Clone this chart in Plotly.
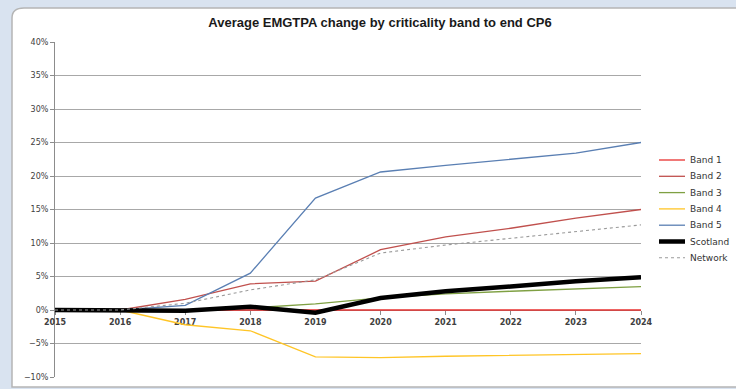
import plotly.graph_objects as go

# Years on the horizontal axis
years = [2015, 2016, 2017, 2018, 2019, 2020, 2021, 2022, 2023, 2024]

# Average EMGTPA change (fraction) for each criticality band
band_1 = [0.0, 0.0, 0.0, 0.0, 0.0, 0.0, 0.0, 0.0, 0.0, 0.0]
band_2 = [0.0, 0.0, 0.016, 0.039, 0.043, 0.090, 0.109, 0.122, 0.137, 0.150]
band_3 = [0.0, 0.0, 0.0, 0.003, 0.009, 0.018, 0.024, 0.028, 0.031, 0.035]
band_4 = [0.0, 0.0, -0.022, -0.031, -0.070, -0.071, -0.069, -0.068, -0.067, -0.065]
band_5 = [0.0, 0.0, 0.007, 0.055, 0.167, 0.206, 0.216, 0.225, 0.234, 0.250]
scotland = [0.0, 0.0, -0.001, 0.005, -0.004, 0.018, 0.028, 0.035, 0.043, 0.049]
network = [0.0, 0.0, 0.010, 0.030, 0.045, 0.085, 0.097, 0.107, 0.117, 0.127]

series_names = ["Band 1", "Band 2", "Band 3", "Band 4", "Band 5", "Scotland", "Network"]
series_values = [band_1, band_2, band_3, band_4, band_5, scotland, network]
series_styles = [
    dict(color="#e8302f", width=1.3),
    dict(color="#c0504d", width=1.3),
    dict(color="#7fa043", width=1.3),
    dict(color="#ffc526", width=1.3),
    dict(color="#5a7fb3", width=1.3),
    dict(color="#000000", width=4.5),
    dict(color="#9a9a9a", width=1.1, dash="dot"),
]

title_text = "Average EMGTPA change by criticality band to end CP6"

fig = go.Figure()
for name, vals, style in zip(series_names, series_values, series_styles):
    fig.add_trace(go.Scatter(x=years, y=vals, mode="lines", name=name, line=style,
                             hoverinfo="x+y+name", showlegend=False))

# Plot area geometry (pixels) used to place the frame and key in paper units
W, H = 736, 389
L, R, T, B = 55, 95, 42, 12
pw, ph = W - L - R, H - T - B


def px(x):
    return (x - L) / pw


def py(y):
    return (H - B - y) / ph


shapes = [
    # pale blue window backdrop
    dict(type="rect", xref="paper", yref="paper", x0=px(0), x1=px(W), y0=py(H), y1=py(0),
         fillcolor="#d9e3f0", line=dict(width=0), layer="below"),
    # white chart panel with grey border
    dict(type="path", xref="paper", yref="paper",
         path=(f"M {px(12)},{py(387)} L {px(12)},{py(18)} Q {px(12)},{py(8)} {px(24)},{py(8)} "
               f"L {px(740)},{py(8)} L {px(740)},{py(387)} Z"),
         fillcolor="#ffffff", line=dict(color="#b5b5b5", width=1.5), layer="below"),
]

# Series key at the right of the plot
annotations = []
key_top, key_step = 160, 16.3
for i, (name, style) in enumerate(zip(series_names, series_styles)):
    yy = key_top + i * key_step
    shapes.append(dict(type="line", xref="paper", yref="paper",
                       x0=px(659), x1=px(685), y0=py(yy), y1=py(yy),
                       line=dict(color=style["color"], width=style["width"],
                                 dash=style.get("dash", "solid"))))
    annotations.append(dict(xref="paper", yref="paper", x=px(688), y=py(yy),
                            xanchor="left", yanchor="middle", showarrow=False, text=name,
                            font=dict(family="DejaVu Sans, Verdana, sans-serif", size=9,
                                      color="#333333")))

fig.update_layout(
    width=W, height=H,
    margin=dict(l=L, r=R, t=T, b=B, autoexpand=False),
    paper_bgcolor="#ffffff",
    plot_bgcolor="rgba(0,0,0,0)",
    shapes=shapes,
    annotations=annotations,
    title=dict(text=f"<b>{title_text}</b>", x=380 / W, xanchor="center",
               y=1 - 22 / H, yanchor="middle",
               font=dict(family="Liberation Sans, Arial, sans-serif", size=13, color="#1a1a1a")),
    font=dict(family="DejaVu Sans, Verdana, sans-serif", size=8, color="#404040"),
    showlegend=False,
    xaxis=dict(range=[2015, 2024], tickmode="array", tickvals=years,
               ticktext=[f"<b>{y}</b>" for y in years],
               anchor="free", position=py(310), showline=True, linecolor="#8c8c8c",
               linewidth=1, ticks="outside", ticklen=4, tickcolor="#8c8c8c",
               showgrid=False, zeroline=False, layer="below traces",
               tickfont=dict(family="DejaVu Sans, Verdana, sans-serif", size=8, color="#404040")),
    yaxis=dict(range=[-0.10, 0.40], dtick=0.05, tickformat=".0%",
               showline=True, linecolor="#8c8c8c", linewidth=1,
               ticks="outside", ticklen=4, tickcolor="#8c8c8c",
               showgrid=True, gridcolor="#a8a8a8", gridwidth=1, zeroline=False,
               layer="below traces",
               tickfont=dict(family="DejaVu Sans, Verdana, sans-serif", size=8, color="#404040")),
)

fig.write_html("out.html")
